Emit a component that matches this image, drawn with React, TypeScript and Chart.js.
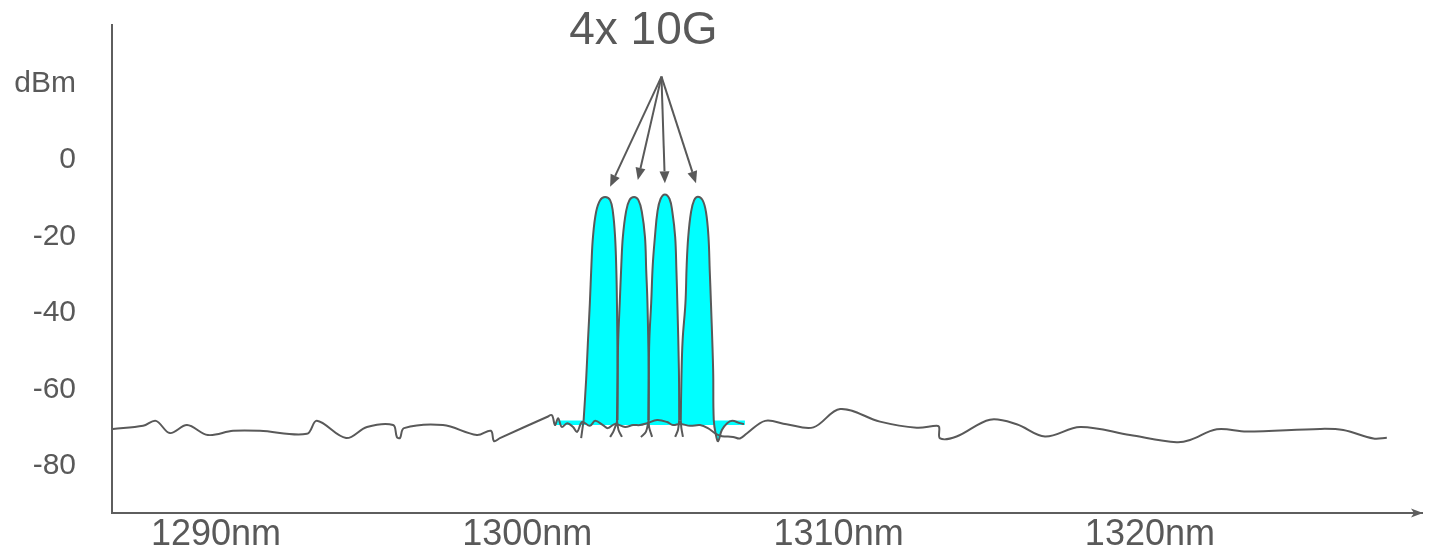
import { useEffect, useRef } from 'react';
import { Chart, registerables } from 'chart.js';

Chart.register(...registerables);

// Wavelength axis (nm) and power axis (dBm)
const wavelengthTicks = [1290, 1300, 1310, 1320];
const powerTicks = [-80, -60, -40, -20, 0, 20];
const powerTickLabels = ['-80', '-60', '-40', '-20', '0', 'dBm'];

// Broadband noise floor of the optical spectrum
const noiseNm = [
  1286.69, 1287.66, 1288.07, 1288.52, 1289.07, 1289.74, 1290.55, 1291.41, 1292.92, 1293.24,
  1294.18, 1294.85, 1295.69, 1295.81, 1295.91, 1296.04, 1297.29, 1298.38, 1298.83, 1298.93,
  1299.12, 1300.63, 1300.79, 1300.89, 1300.99, 1301.11, 1301.28, 1301.47, 1301.6, 1301.76,
  1302.01, 1302.18, 1302.43, 1302.59, 1302.82, 1303.14, 1303.4, 1303.62, 1303.85, 1304.17,
  1304.49, 1304.68, 1304.91, 1305.23, 1305.55, 1305.8, 1306.06, 1306.25, 1306.61, 1306.83,
  1307.05, 1307.64, 1308.33, 1309.19, 1310.05, 1311.33, 1312.51, 1313.15, 1313.23, 1313.26,
  1313.79, 1314.86, 1315.72, 1316.63, 1317.76, 1319.36, 1320.86, 1321.29, 1322.15, 1323.11,
  1325.47, 1326.21, 1327.18, 1327.61,
];
const noiseDbm = [
  -70.3, -69.5, -68.2, -71.4, -69.3, -71.9, -70.8, -70.8, -71.6, -68.2,
  -72.7, -69.8, -69.3, -72.4, -72.7, -70.1, -69.3, -71.9, -70.8, -73.5,
  -72.7, -67.2, -66.7, -69.3, -67.5, -69.8, -68.8, -69.8, -71.1, -68.5,
  -69.5, -68.2, -69.3, -70.1, -69.0, -69.8, -69.3, -69.3, -68.8, -68.0,
  -68.5, -69.3, -69.0, -69.5, -69.3, -70.1, -71.6, -72.2, -72.4, -72.8,
  -71.5, -68.2, -69.1, -69.9, -65.1, -68.4, -70.0, -69.5, -69.8, -72.8,
  -72.3, -67.9, -69.1, -72.3, -69.8, -71.9, -73.8, -73.2, -70.4, -71.0,
  -70.3, -70.6, -72.8, -72.6,
];

// Four 10G lanes (main lobes, base to base)
const lane1Nm = [1301.81, 1301.89, 1301.95, 1302.01, 1302.06, 1302.11, 1302.21, 1302.34, 1302.5, 1302.66, 1302.75, 1302.82, 1302.86, 1302.88, 1302.9, 1302.9];
const lane1Dbm = [-68.0, -57.5, -47.1, -37.4, -27.5, -20.1, -13.6, -10.5, -9.7, -10.5, -13.6, -20.1, -28.8, -37.4, -54.9, -68.0];

const lane2Nm = [1302.88, 1302.9, 1302.92, 1302.97, 1303.02, 1303.07, 1303.17, 1303.28, 1303.43, 1303.57, 1303.68, 1303.78, 1303.82, 1303.86, 1303.9, 1303.9];
const lane2Dbm = [-68.0, -57.5, -47.1, -37.4, -27.5, -20.1, -13.6, -10.5, -9.7, -10.5, -13.6, -20.1, -28.8, -37.4, -54.9, -68.0];

const lane3Nm = [1303.89, 1303.9, 1303.92, 1303.98, 1304.03, 1304.1, 1304.18, 1304.28, 1304.42, 1304.57, 1304.66, 1304.75, 1304.79, 1304.82, 1304.87, 1304.88];
const lane3Dbm = [-68.0, -57.5, -47.1, -37.4, -27.5, -20.1, -13.6, -10.2, -9.0, -10.2, -13.6, -20.1, -28.8, -37.4, -54.9, -68.0];

const lane4Nm = [1304.93, 1304.95, 1304.99, 1305.08, 1305.12, 1305.17, 1305.26, 1305.36, 1305.48, 1305.63, 1305.74, 1305.82, 1305.86, 1305.9, 1305.97, 1305.99, 1306.06, 1306.13, 1306.25, 1306.42, 1306.58, 1306.83, 1306.96];
const lane4Dbm = [-68.0, -57.5, -47.1, -37.4, -27.5, -20.1, -13.6, -10.5, -9.6, -10.5, -13.6, -20.1, -28.8, -37.4, -54.9, -68.0, -71.9, -73.5, -70.6, -68.8, -68.2, -68.8, -69.0];

// Side-lobe tails below the lanes (null breaks the trace between tails)
const tailNm = [
  1301.73, 1301.81, null,
  1302.9, 1302.76, 1302.66, null,
  1303.04, 1302.93, 1302.88, null,
  1303.9, 1303.81, 1303.65, null,
  1304.01, 1303.92, 1303.89, null,
  1304.88, 1304.84, 1304.75, null,
  1305.0, 1304.95, 1304.93,
];
const tailDbm = [
  -72.7, -68.0, null,
  -68.0, -71.1, -72.4, null,
  -72.4, -70.6, -68.0, null,
  -68.0, -71.1, -72.4, null,
  -72.4, -70.1, -68.0, null,
  -68.0, -70.6, -72.4, null,
  -72.4, -70.1, -68.0,
];

// Shaded pedestal under the lanes
const pedestalNm = [1300.92, 1306.99];
const pedestalDbm = [-68.1, -68.1];
const fillFloorDbm = -69.3;

// "4x 10G" callout: label anchor, arrow origin and arrow tips (nm, dBm)
const calloutText = '4x 10G';
const calloutLabelAt = [1303.73, 30.4];
const calloutFrom = [1304.31, 21.8];
const calloutTipsNm = [1302.66, 1303.55, 1304.42, 1305.42];
const calloutTipsDbm = [-7.0, -5.2, -6.1, -6.1];

const INK = '#595959';
const AXIS = '#5e5e5e';
const CYAN = '#00ffff';
const FONT = '"Liberation Sans", Arial, Helvetica, sans-serif';

const toPoints = (xs: (number | null)[], ys: (number | null)[]) =>
  xs.map((x, i) => ({ x: x ?? NaN, y: ys[i] }));

const laneDataset = (xs: number[], ys: number[]) => ({
  data: toPoints(xs, ys),
  borderColor: INK,
  borderWidth: 2,
  backgroundColor: CYAN,
  fill: { value: fillFloorDbm },
  tension: 0.4,
  pointRadius: 0,
});

const calloutPlugin = {
  id: 'callout',
  afterDraw(chart: any) {
    const { ctx, chartArea } = chart;
    const xs = chart.scales.x;
    const ys = chart.scales.y;
    ctx.save();

    // arrowhead at the end of the wavelength axis
    const ax = chartArea.right;
    const ay = chartArea.bottom;
    ctx.fillStyle = AXIS;
    ctx.beginPath();
    ctx.moveTo(ax + 1, ay);
    ctx.lineTo(ax - 11, ay - 4.5);
    ctx.lineTo(ax - 8, ay);
    ctx.lineTo(ax - 11, ay + 4.5);
    ctx.closePath();
    ctx.fill();

    // title
    ctx.fillStyle = INK;
    ctx.font = `46px ${FONT}`;
    ctx.textAlign = 'center';
    ctx.textBaseline = 'alphabetic';
    ctx.fillText(calloutText, xs.getPixelForValue(calloutLabelAt[0]), ys.getPixelForValue(calloutLabelAt[1]));

    // arrows to each lane
    const ox = xs.getPixelForValue(calloutFrom[0]);
    const oy = ys.getPixelForValue(calloutFrom[1]);
    ctx.strokeStyle = INK;
    ctx.lineWidth = 2;
    calloutTipsNm.forEach((nm, i) => {
      const tx = xs.getPixelForValue(nm);
      const ty = ys.getPixelForValue(calloutTipsDbm[i]);
      const ang = Math.atan2(ty - oy, tx - ox);
      const head = 12;
      const half = 5;
      const bx = tx - head * Math.cos(ang);
      const by = ty - head * Math.sin(ang);
      ctx.beginPath();
      ctx.moveTo(ox, oy);
      ctx.lineTo(bx, by);
      ctx.stroke();
      ctx.beginPath();
      ctx.moveTo(tx, ty);
      ctx.lineTo(bx + half * Math.sin(ang), by - half * Math.cos(ang));
      ctx.lineTo(bx - half * Math.sin(ang), by + half * Math.cos(ang));
      ctx.closePath();
      ctx.fill();
    });
    ctx.restore();
  },
};

export default function App() {
  const canvasRef = useRef<HTMLCanvasElement | null>(null);

  useEffect(() => {
    const canvas = canvasRef.current;
    if (!canvas) return;
    const chart = new Chart(canvas, {
      type: 'line',
      data: {
        datasets: [
          {
            data: toPoints(noiseNm, noiseDbm),
            borderColor: INK,
            borderWidth: 2,
            fill: false,
            tension: 0.35,
            pointRadius: 0,
          },
          {
            data: toPoints(tailNm, tailDbm),
            borderColor: INK,
            borderWidth: 2,
            fill: false,
            tension: 0.3,
            pointRadius: 0,
            spanGaps: false,
          },
          laneDataset(lane1Nm, lane1Dbm),
          laneDataset(lane2Nm, lane2Dbm),
          laneDataset(lane3Nm, lane3Dbm),
          laneDataset(lane4Nm, lane4Dbm),
          {
            data: toPoints(pedestalNm, pedestalDbm),
            borderWidth: 0,
            borderColor: 'rgba(0,0,0,0)',
            backgroundColor: CYAN,
            fill: { value: fillFloorDbm },
            pointRadius: 0,
          },
        ],
      } as any,
      options: {
        animation: false,
        responsive: false,
        events: [],
        layout: { padding: { left: 0, top: 25, right: 9, bottom: 0 } },
        plugins: {
          legend: { display: false },
          tooltip: { enabled: false },
          filler: { drawTime: 'beforeDatasetsDraw' },
        } as any,
        scales: {
          x: {
            type: 'linear',
            min: 1286.66,
            max: 1328.74,
            grid: { display: false, drawTicks: false },
            border: { display: true, color: AXIS, width: 2 },
            afterBuildTicks: (s: any) => {
              s.ticks = wavelengthTicks.map((v) => ({ value: v }));
            },
            afterFit: (s: any) => {
              s.height = 44;
              s.paddingLeft = 0;
              s.paddingRight = 0;
            },
            ticks: {
              padding: 0,
              maxRotation: 0,
              autoSkip: false,
              color: INK,
              font: { family: FONT, size: 36 },
              callback: (v: any) => `${v}nm`,
            },
          },
          y: {
            type: 'linear',
            min: -92.29,
            max: 35.29,
            grid: { display: false, drawTicks: false },
            border: { display: true, color: AXIS, width: 2 },
            afterBuildTicks: (s: any) => {
              s.ticks = powerTicks.map((v) => ({ value: v }));
            },
            afterFit: (s: any) => {
              s.width = 112;
              s.paddingTop = 0;
              s.paddingBottom = 0;
            },
            ticks: {
              padding: 36,
              autoSkip: false,
              color: INK,
              font: { family: FONT, size: 30 },
              callback: (v: any) => powerTickLabels[powerTicks.indexOf(Number(v))] ?? '',
            },
          },
        },
      } as any,
      plugins: [calloutPlugin],
    });
    return () => chart.destroy();
  }, []);

  return (
    <div style={{ position: 'absolute', left: 0, top: 0, width: 1431, height: 557 }}>
      <canvas ref={canvasRef} width={1431} height={557} />
    </div>
  );
}
